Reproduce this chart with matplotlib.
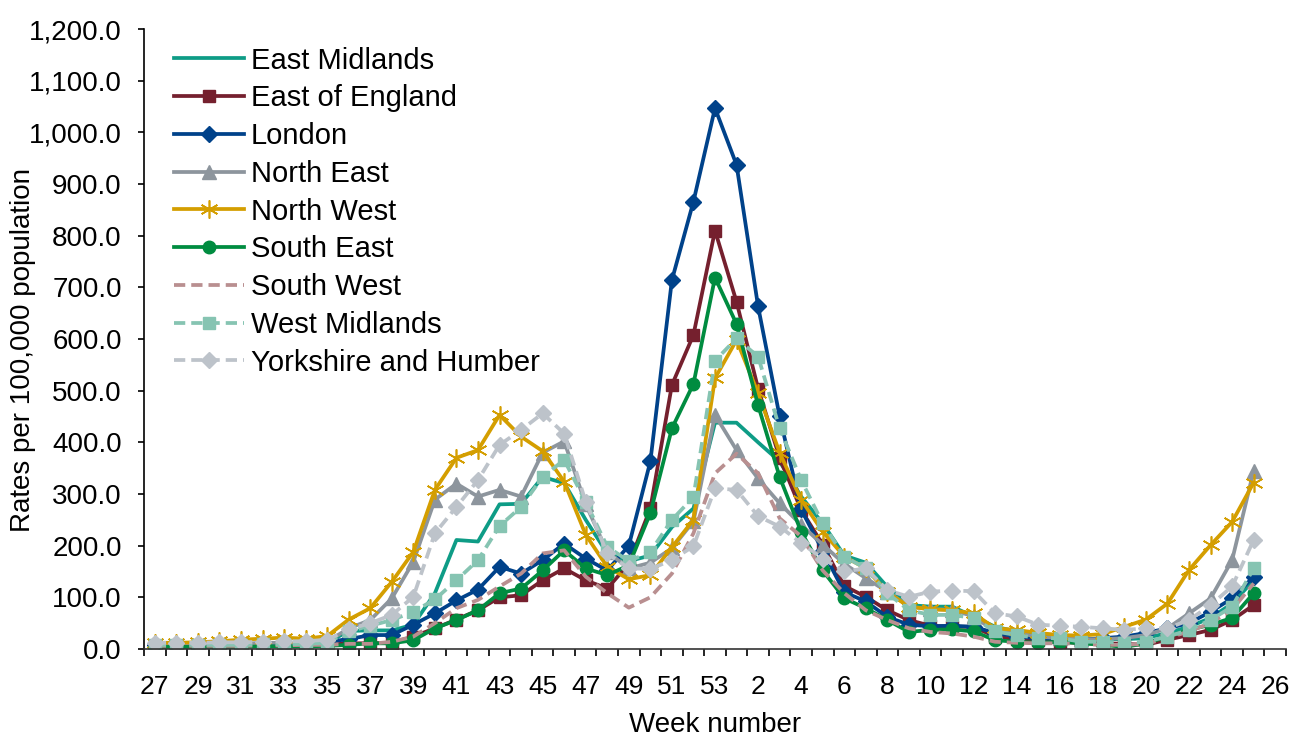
import numpy as np
import matplotlib
matplotlib.use("Agg")
import matplotlib.pyplot as plt
from matplotlib.ticker import FuncFormatter, FixedLocator

plt.rcParams['font.family'] = ['Liberation Sans', 'DejaVu Sans']

# week labels (week 26 has no data yet)
weeks = list(range(27, 54)) + list(range(1, 27))

east_midlands = [10, 10, 10, 10, 10, 10, 11, 11, 12,
                 35, 36, 36, 47, 108, 211, 208, 280, 281, 333, 321, 250, 185, 170,
                 181, 236, 272, 438, 438, 400, 363,
                 295, 243, 181, 167, 120, 85, 82, 82,
                 63, 43, 34, 27, 24, 19, 19, 19, 21, 31, 43, 60, 88, 133]
east_of_england = [5, 5, 5, 6, 6, 6, 6, 7, 8,
                   11, 11, 12, 24, 40, 57, 75, 100, 104, 133, 156, 133, 117, 165,
                   272, 511, 608, 810, 672, 504, 370,
                   269, 202, 122, 101, 75, 56, 45, 43,
                   43, 24, 19, 18, 14, 11, 11, 10, 8, 18, 27, 37, 56, 85]
london = [8, 8, 9, 9, 9, 10, 10, 11, 14,
          19, 27, 27, 47, 69, 94, 115, 159, 146, 172, 204, 175, 152, 200,
          363, 714, 866, 1047, 937, 663, 450,
          270, 190, 110, 92, 62, 47, 44, 45,
          43, 31, 24, 21, 19, 18, 21, 24, 31, 40, 50, 72, 98, 140]
north_east = [10, 10, 10, 10, 10, 12, 12, 12, 14,
              40, 56, 98, 169, 289, 320, 295, 308, 295, 380, 402, 280, 188, 156,
              167, 195, 247, 453, 385, 330, 282,
              240, 202, 165, 137, 111, 82, 77, 76,
              63, 34, 31, 24, 21, 19, 19, 21, 27, 40, 69, 98, 172, 345]
north_west = [12, 12, 13, 15, 18, 20, 22, 20, 25,
              57, 79, 130, 188, 308, 370, 385, 453, 411, 383, 324, 221, 159, 135,
              143, 197, 250, 524, 598, 495, 380,
              289, 227, 179, 156, 110, 82, 77, 75,
              69, 40, 37, 31, 27, 26, 29, 43, 57, 88, 153, 201, 246, 322]
south_east = [4, 4, 4, 4, 4, 5, 5, 5, 6,
              8, 11, 11, 17, 40, 56, 75, 108, 117, 152, 191, 156, 143, 162,
              263, 427, 513, 719, 629, 472, 333,
              227, 152, 98, 79, 56, 33, 37, 38,
              34, 17, 14, 12, 14, 11, 8, 4, 11, 24, 37, 47, 60, 108]
south_west = [6, 6, 6, 6, 6, 7, 7, 8, 8,
              10, 10, 14, 24, 50, 79, 95, 121, 146, 185, 191, 140, 108, 80,
              100, 146, 224, 340, 378, 340, 253,
              218, 152, 108, 75, 56, 40, 33, 30,
              24, 14, 12, 11, 11, 10, 8, 8, 10, 21, 34, 50, 76, 127]
west_midlands = [8, 8, 8, 8, 8, 9, 9, 10, 12,
                 34, 45, 56, 72, 96, 133, 172, 238, 275, 333, 366, 285, 198, 170,
                 188, 250, 294, 558, 601, 566, 427,
                 327, 243, 179, 156, 108, 75, 66, 66,
                 60, 34, 27, 21, 21, 14, 14, 12, 14, 24, 37, 56, 82, 156]
yorkshire = [12, 12, 12, 13, 13, 14, 15, 15, 18,
             38, 50, 66, 101, 224, 275, 327, 395, 424, 456, 417, 285, 185, 156,
             155, 172, 199, 311, 308, 257, 237,
             205, 175, 150, 156, 114, 101, 111, 113,
             112, 69, 63, 47, 45, 43, 40, 37, 40, 40, 56, 85, 121, 211]

series = [
    ("East Midlands", east_midlands, "#0E9C86", "-", None),
    ("East of England", east_of_england, "#75202E", "-", "s"),
    ("London", london, "#00428A", "-", "D"),
    ("North East", north_east, "#8D959D", "-", "^"),
    ("North West", north_west, "#D49E00", "-", (6, 2, 0)),
    ("South East", south_east, "#008C40", "-", "o"),
    ("South West", south_west, "#B98F90", "--", None),
    ("West Midlands", west_midlands, "#86C4B2", "--", "s"),
    ("Yorkshire and Humber", yorkshire, "#BDC3CA", "--", "D"),
]
msizes = {"s": 9, "D": 8, "^": 10, "o": 9, (6, 2, 0): 13}

fig = plt.figure(figsize=(12.94, 7.38), dpi=100)
ax = fig.add_axes([0.1113, 0.1206, 0.8825, 0.8401])

for name, vals, col, ls, mk in series:
    x = np.arange(len(vals))
    kw = dict(color=col, lw=2.7, label=name, linestyle=ls)
    if ls == "--":
        kw["dashes"] = (3, 1.6)
    if mk is not None:
        kw.update(marker=mk, markersize=msizes[mk],
                  markerfacecolor=col, markeredgecolor=col)
        if mk == (6, 2, 0):
            kw.update(markeredgewidth=1.2)
    ax.plot(x, vals, **kw)

ax.set_xlim(-0.5, len(weeks) - 0.5)
ax.set_ylim(0, 1200)
ax.set_yticks(np.arange(0, 1201, 100))
ax.yaxis.set_major_formatter(FuncFormatter(lambda v, p: f"{v:,.1f}"))

ax.set_xticks(np.arange(0, len(weeks), 2))
ax.set_xticklabels([str(w) for w in weeks[::2]])
ax.xaxis.set_minor_locator(FixedLocator(np.arange(-0.5, len(weeks), 1)))
ax.tick_params(axis="x", which="major", length=0, pad=18.5, labelsize=19)
ax.tick_params(axis="x", which="minor", length=5, width=1.2, direction="out")
ax.tick_params(axis="y", length=4.5, width=1.2, direction="out", labelsize=20, pad=11.5)

for s in ["top", "right"]:
    ax.spines[s].set_visible(False)
for s in ["left", "bottom"]:
    ax.spines[s].set_linewidth(1.2)
ax.spines["bottom"].set_color("#333333")

ax.set_xlabel("Week number", fontsize=20, labelpad=9.5)
ax.set_ylabel("Rates per 100,000 population", fontsize=20)
ax.yaxis.set_label_coords(-0.095, 0.482)

leg = ax.legend(loc="upper left", bbox_to_anchor=(0.011, 1.0), frameon=False,
                fontsize=21, handlelength=2.4, labelspacing=0.335,
                handletextpad=0.22, borderaxespad=0.2)

fig.savefig("out.png", dpi=100)
